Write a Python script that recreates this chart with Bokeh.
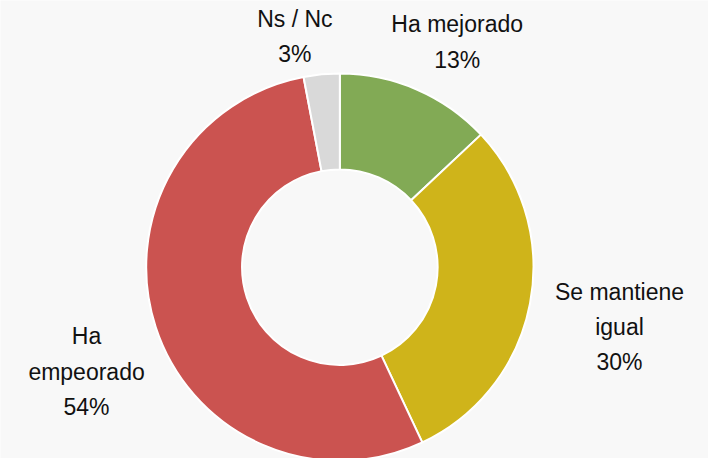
import math
from bokeh.plotting import figure
from bokeh.models import Range1d, ColumnDataSource
from bokeh.core.properties import value
from bokeh.embed import file_html
from bokeh.resources import INLINE

# ---- data ----
categories = ["Ha mejorado", "Se mantiene igual", "Ha empeorado", "Ns / Nc"]
label_lines = ["Ha mejorado", "Se mantiene\nigual", "Ha\nempeorado", "Ns / Nc"]
values = [13, 30, 54, 3]
colors = ["#82AA55", "#CFB41A", "#CB5350", "#D9D9D9"]

# ---- layout (reference-frame coordinates, y measured from top) ----
W, H = 724, 474
cx, cy = 347, 276
outer_r, inner_r = 198, 100
label_pos = [(467, 43), (633, 338), (88, 384), (301, 37)]
BG = "#F8F8F8"

def sy(y):
    return H - y

total = float(sum(values))
starts, ends = [], []
acc = 0.0
for v in values:
    a0 = math.pi / 2 - 2 * math.pi * acc / total
    acc += v
    a1 = math.pi / 2 - 2 * math.pi * acc / total
    starts.append(a0)
    ends.append(a1)

src = ColumnDataSource(dict(cat=categories, val=values, color=colors,
                            start=starts, end=ends))

p = figure(width=W - 16, height=H - 16, output_backend="svg", toolbar_location=None,
           x_range=Range1d(0, W), y_range=Range1d(0, H), min_border=0)
p.axis.visible = False
p.grid.visible = False
p.outline_line_color = None
p.background_fill_color = BG
p.border_fill_color = BG

p.annular_wedge(x=cx, y=sy(cy), inner_radius=inner_r, outer_radius=outer_r,
                start_angle="start", end_angle="end", direction="clock",
                fill_color="color", line_color="white", line_width=2, source=src)

texts = [f"{l}\n{v}%" for l, v in zip(label_lines, values)]
lsrc = ColumnDataSource(dict(x=[q[0] for q in label_pos], y=[sy(q[1]) for q in label_pos],
                             t=texts))
p.text(x="x", y="y", text="t", source=lsrc, text_align="center", text_baseline="middle",
       text_font=value("Liberation Sans"), text_font_size="23px", text_color="#111111",
       text_line_height=1.35)

html = file_html(p, INLINE)
html = html.replace("<body>", '<body style="background-color:#F8F8F8;">', 1)
open("out.html", "w").write(html)
